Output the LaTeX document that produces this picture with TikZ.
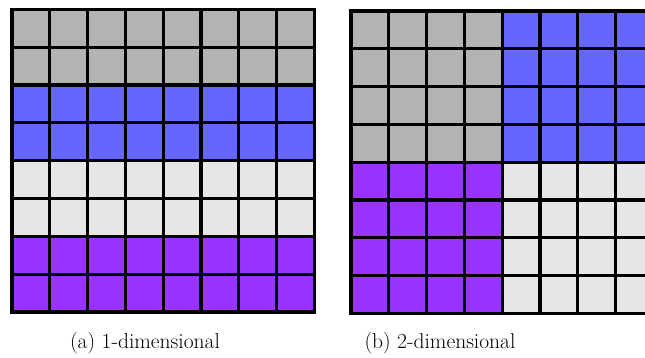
\documentclass[tikz,border=0pt]{standalone}
\usetikzlibrary{calc}
\definecolor{blkgray}{RGB}{179,179,179}
\definecolor{blkblue}{RGB}{102,102,255}
\definecolor{blklight}{RGB}{230,230,230}
\definecolor{blkviolet}{RGB}{153,51,255}
\tikzset{
  gridline/.style={line width=3.2pt, black},
  caption/.style={font=\fontsize{21.5}{25}\selectfont, anchor=center}
}
\begin{document}
\begin{tikzpicture}[x=1pt,y=-1pt]
  \useasboundingbox (0,0) rectangle (645,358);
  \clip (0,0) rectangle (645,358);
  \def\cs{37.8}
  % (a) row-wise split: two rows per block
  \begin{scope}[shift={(12,9.5)}]
    \fill[blkgray]   (0,0)      rectangle (8*\cs,2*\cs);
    \fill[blkblue]   (0,2*\cs)  rectangle (8*\cs,4*\cs);
    \fill[blklight]  (0,4*\cs)  rectangle (8*\cs,6*\cs);
    \fill[blkviolet] (0,6*\cs)  rectangle (8*\cs,8*\cs);
    \foreach \i in {0,...,8} {
      \draw[gridline, line cap=rect] (\i*\cs,0) -- (\i*\cs,8*\cs);
      \draw[gridline, line cap=rect] (0,\i*\cs) -- (8*\cs,\i*\cs);
    }
  \end{scope}
  % (b) quadrant split: 4x4 blocks
  \begin{scope}[shift={(351,11)}]
    \fill[blkgray]   (0,0)          rectangle (4*\cs,4*\cs);
    \fill[blkblue]   (4*\cs,0)      rectangle (8*\cs,4*\cs);
    \fill[blkviolet] (0,4*\cs)      rectangle (4*\cs,8*\cs);
    \fill[blklight]  (4*\cs,4*\cs)  rectangle (8*\cs,8*\cs);
    \foreach \i in {0,...,8} {
      \draw[gridline, line cap=rect] (\i*\cs,0) -- (\i*\cs,8*\cs);
      \draw[gridline, line cap=rect] (0,\i*\cs) -- (8*\cs,\i*\cs);
    }
  \end{scope}
  \node[caption] (capa) at (145,343) {(a) 1-dimensional};
  \node[caption] (capb) at (440,343) {(b) 2-dimensional};
\end{tikzpicture}
\end{document}
